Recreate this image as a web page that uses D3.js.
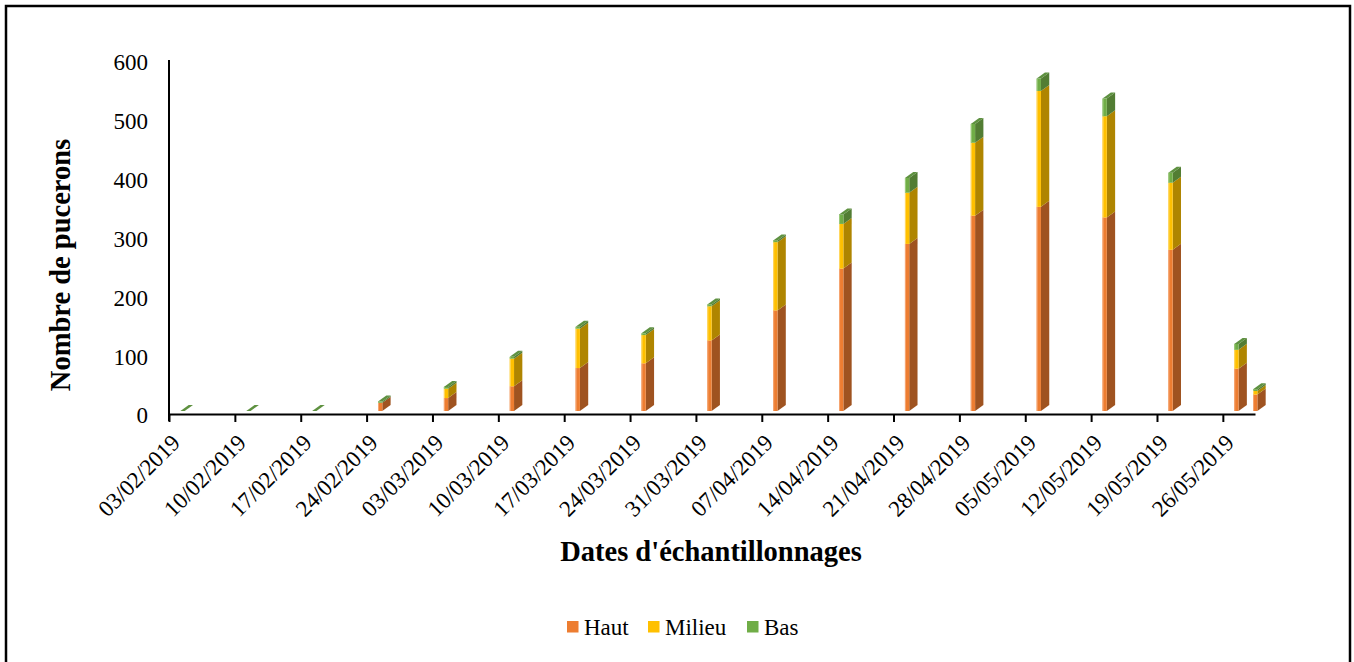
<!DOCTYPE html>
<html>
<head>
<meta charset="utf-8">
<script src="https://cdn.jsdelivr.net/npm/d3@7"></script>
<style>
  html, body { margin: 0; padding: 0; background: #fff; }
  svg { display: block; }
  text { font-family: "Liberation Serif", "Times New Roman", serif; fill: #000; }
</style>
</head>
<body>
<svg id="chart" width="1354" height="662"></svg>
<script>
// ---- data ----
const categories = ["04/02/2019","11/02/2019","18/02/2019","25/02/2019","04/03/2019","11/03/2019",
  "18/03/2019","25/03/2019","01/04/2019","08/04/2019","15/04/2019","22/04/2019","29/04/2019",
  "06/05/2019","13/05/2019","20/05/2019","27/05/2019","29/05/2019"];
const haut   = [0, 0, 0, 14, 22, 42, 73, 81, 120, 171, 242, 284, 332, 347, 329, 274, 72, 28];
const milieu = [0, 0, 0, 0, 16, 47, 67, 48, 58, 116, 76, 87, 124, 197, 172, 114, 32, 6];
const bas    = [0, 0, 0, 2, 3, 3, 3, 3, 3, 3, 16, 25, 32, 21, 30, 17, 10, 3];
const seriesNames = ["Haut", "Milieu", "Bas"];
const tickLabels = ["03/02/2019","10/02/2019","17/02/2019","24/02/2019","03/03/2019","10/03/2019",
  "17/03/2019","24/03/2019","31/03/2019","07/04/2019","14/04/2019","21/04/2019","28/04/2019",
  "05/05/2019","12/05/2019","19/05/2019","26/05/2019"];
const yTicks = [0, 100, 200, 300, 400, 500, 600];

// ---- styles ----
const frontColors = ["#ED7D31", "#FFC000", "#70AD47"];
const sideColors  = ["#9F5320", "#AF8500", "#527D33"];
const edgeColors  = ["#F6A774", "#FFD866", "#9CCB7D"];
const topColor    = "#5E9140";

const svg = d3.select("#chart");
const parse = d3.utcParse("%d/%m/%Y");

// frame
svg.append("rect").attr("x", 6).attr("y", 6).attr("width", 1344).attr("height", 700)
  .attr("fill", "none").attr("stroke", "#000").attr("stroke-width", 2.5);

const x = d3.scaleUtc()
  .domain([parse("03/02/2019"), new Date(Date.UTC(2019, 4, 29, 10))])
  .range([169, 1255]);
const y = d3.scaleLinear().domain([0, 600]).range([415.5, 62.5]);

// y axis labels
const yAxis = svg.append("g").attr("transform", "translate(169,0)")
  .call(d3.axisLeft(y).tickValues(yTicks).tickSize(0).tickPadding(21));
yAxis.select(".domain").remove();
yAxis.attr("font-family", null);
yAxis.selectAll("text").style("font-family", "'Liberation Serif', serif").style("font-size", "23px");
svg.append("line").attr("x1", 169).attr("x2", 169).attr("y1", 60).attr("y2", 421)
  .attr("stroke", "#000").attr("stroke-width", 2);

// x axis
const xAxis = svg.append("g").attr("transform", "translate(0,414)")
  .call(d3.axisBottom(x).tickValues(tickLabels.map(parse)).tickSize(8)
    .tickFormat((d, i) => tickLabels[i]).tickSizeOuter(0));
xAxis.attr("font-family", null);
xAxis.select(".domain").attr("stroke", "#000").attr("stroke-width", 2);
xAxis.selectAll(".tick line").attr("stroke", "#000").attr("stroke-width", 2);
xAxis.selectAll(".tick text")
  .attr("x", 0).attr("y", 0).attr("dy", 0)
  .attr("text-anchor", "end")
  .attr("transform", "translate(12,30) rotate(-45)")
  .style("font-family", "'Liberation Serif', serif").style("font-size", "23px");

// bars (3D stacked columns)
const fw = 4.3, ddx = 8.3, ddy = -6, lift = 4.5, shift = 2;
const stackVals = [haut, milieu, bas];
const barsG = svg.append("g");
categories.forEach((c, i) => {
  const fx = x(parse(c)) + shift;
  let cum = 0;
  const g = barsG.append("g");
  stackVals.forEach((vals, s) => {
    const v = vals[i];
    const y0 = y(cum) - lift, y1 = y(cum + v) - lift;
    cum += v;
    if (v > 0) {
      g.append("polygon")
        .attr("points", [[fx + fw, y0], [fx + fw + ddx, y0 + ddy], [fx + fw + ddx, y1 + ddy], [fx + fw, y1]].map(p => p.join(",")).join(" "))
        .attr("fill", sideColors[s]);
      g.append("rect").attr("x", fx).attr("y", y1).attr("width", fw).attr("height", y0 - y1)
        .attr("fill", frontColors[s]);
      g.append("rect").attr("x", fx).attr("y", y1).attr("width", 1).attr("height", y0 - y1)
        .attr("fill", edgeColors[s]);
    }
    if (s === stackVals.length - 1) {
      g.append("polygon")
        .attr("points", [[fx, y1], [fx + fw, y1], [fx + fw + ddx, y1 + ddy], [fx + ddx, y1 + ddy]].map(p => p.join(",")).join(" "))
        .attr("fill", topColor);
    }
  });
});

// axis titles
svg.append("text").attr("x", 711).attr("y", 561).attr("text-anchor", "middle")
  .style("font-size", "28.5px").style("font-weight", "bold").text("Dates d'échantillonnages");
svg.append("text").attr("transform", "translate(70,265) rotate(-90)").attr("text-anchor", "middle")
  .style("font-size", "28.5px").style("font-weight", "bold").text("Nombre de pucerons");

// legend
const legendX = [567, 648, 747];
const legend = svg.append("g");
seriesNames.forEach((n, i) => {
  legend.append("rect").attr("x", legendX[i]).attr("y", 621).attr("width", 11.5).attr("height", 11.5)
    .attr("fill", frontColors[i]);
  legend.append("text").attr("x", legendX[i] + 17).attr("y", 634.5).style("font-size", "23px").text(n);
});
</script>
</body>
</html>
